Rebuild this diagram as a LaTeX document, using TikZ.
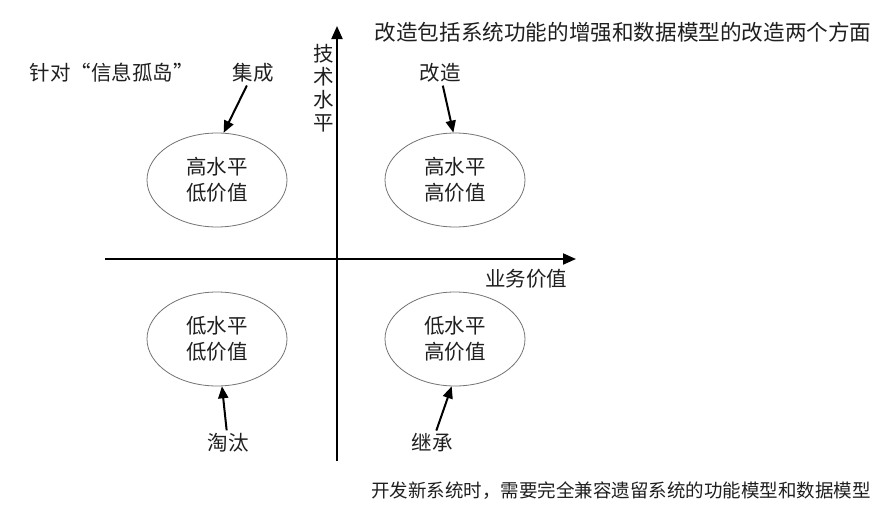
\documentclass[tikz,border=0pt]{standalone}
\usepackage{fontspec}
\setmainfont{Noto Sans CJK SC}
\usetikzlibrary{shapes.geometric,arrows.meta}
\begin{document}
\begin{tikzpicture}[x=1pt,y=-1pt,
  txt/.style={font=\fontsize{20.5}{25}\selectfont, text=black!88, inner sep=1pt},
  quad/.style={ellipse, draw=black!55, line width=0.8pt, minimum width=140pt, minimum height=94pt, inner sep=0pt, align=center, font=\fontsize{20.5}{26}\selectfont, text=black!88},
  axis/.style={line width=2pt, -{Triangle[length=13pt,width=11pt]}},
  ptr/.style={line width=2pt, -{Triangle[length=12pt,width=10pt]}, shorten <=2pt}]
\useasboundingbox (0,0) rectangle (895,507);
% axes
\coordinate (vb) at (337,461);
\coordinate (vt) at (337,26);
\coordinate (hl) at (105,259);
\coordinate (hr) at (576,259);
\draw[axis] (vb) -- (vt);
\draw[axis] (hl) -- (hr);
\node[txt, align=center, font=\fontsize{20.5}{23}\selectfont] (tech) at (324,88) {技\\术\\水\\平};
\node[txt] (biz) at (526,279) {业务价值};
% ellipses
\node[quad] (e1) at (217,180) {高水平\\低价值};
\node[quad] (e2) at (455,180) {高水平\\高价值};
\node[quad] (e3) at (217,339) {低水平\\低价值};
\node[quad] (e4) at (455,339) {低水平\\高价值};
% labels
\node[txt] (zd) at (112,73) {针对“信息孤岛”};
\node[txt] (jc) at (253,73) {集成};
\node[txt] (gz) at (440,73) {改造};
\node[txt] (tt) at (228,443) {淘汰};
\node[txt] (jch) at (432,443) {继承};
\node[txt, font=\fontsize{21.6}{26}\selectfont] (top) at (623,32) {改造包括系统功能的增强和数据模型的改造两个方面};
\node[txt, font=\fontsize{18.5}{22}\selectfont] (bot) at (621,491) {开发新系统时，需要完全兼容遗留系统的功能模型和数据模型};
% pointers
\draw[ptr] (jc) -- (e1.82);
\draw[ptr] (gz) -- (e2.92);
\draw[ptr] (tt) -- (e3.276);
\draw[ptr] (jch) -- (e4.266);
\end{tikzpicture}
\end{document}
